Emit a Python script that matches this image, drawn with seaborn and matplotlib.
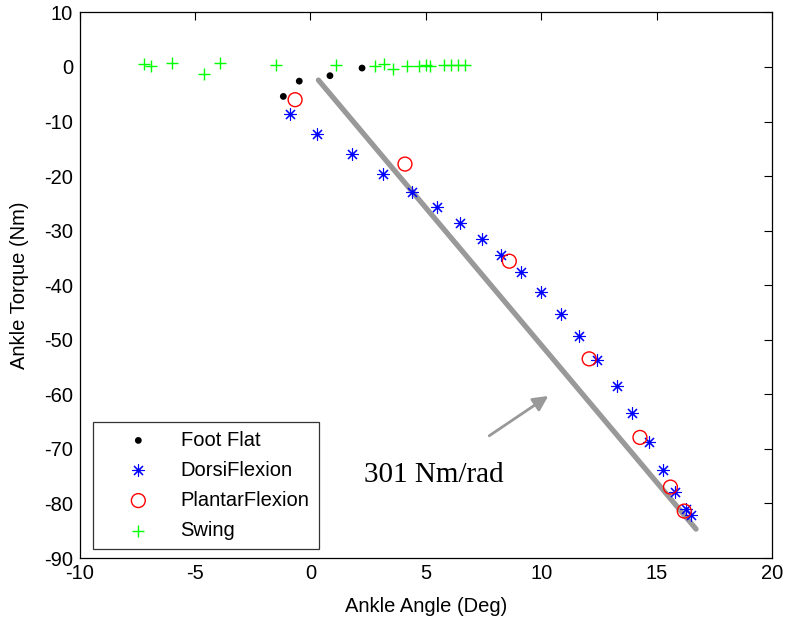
import matplotlib
matplotlib.use("Agg")
import matplotlib.pyplot as plt
import seaborn as sns

# Ankle angle (deg) / torque (Nm) samples by gait phase
foot_flat_angle = [-1.17, -0.48, 0.85, 2.24]
foot_flat_torque = [-5.4, -2.6, -1.6, -0.2]

dorsi_angle = [-0.88, 0.30, 1.82, 3.14, 4.39, 5.50, 6.49, 7.45, 8.26, 9.12,
               10.00, 10.84, 11.66, 12.44, 13.28, 13.95, 14.65, 15.27, 15.80,
               16.26, 16.48]
dorsi_torque = [-8.7, -12.2, -16.0, -19.6, -22.9, -25.7, -28.6, -31.6, -34.4,
                -37.6, -41.2, -45.3, -49.4, -53.8, -58.5, -63.4, -68.8, -73.8,
                -77.9, -81.1, -82.2]

plantar_angle = [-0.66, 4.10, 8.62, 12.08, 14.28, 15.60, 16.20]
plantar_torque = [-6.0, -17.8, -35.6, -53.5, -67.9, -77.0, -81.4]

swing_angle = [-7.2, -6.9, -6.0, -4.6, -3.9, -1.5, 1.1, 2.8, 3.2, 3.6, 4.2,
               4.7, 5.0, 5.2, 5.8, 6.1, 6.4, 6.7]
swing_torque = [0.6, 0.2, 0.7, -1.3, 0.7, 0.4, 0.4, 0.2, 0.5, -0.4, 0.2, 0.2,
                0.4, 0.2, 0.4, 0.4, 0.4, 0.4]

# Linear stiffness fit endpoints
fit_angle = [0.35, 16.71]
fit_torque = [-2.4, -84.7]
stiffness_label = "301 Nm/rad"

sns.set_style("white")
plt.rcParams["font.family"] = ["Liberation Sans", "DejaVu Sans"]
plt.rcParams["axes.unicode_minus"] = False
plt.rcParams["text.color"] = "black"
plt.rcParams["axes.labelcolor"] = "black"

FS = 14.5

fig = plt.figure(figsize=(7.86, 6.21), dpi=100)
ax = fig.add_axes([79.5 / 786, 1 - 558 / 621, (772 - 79.5) / 786, (558 - 12.4) / 621])

sns.lineplot(x=fit_angle, y=fit_torque, ax=ax, color="#999999", linewidth=3.8,
             legend=False, zorder=1)

sns.scatterplot(x=foot_flat_angle, y=foot_flat_torque, ax=ax, marker="o",
                color="black", s=24, edgecolor="none", label="Foot Flat", zorder=3)
sns.scatterplot(x=dorsi_angle, y=dorsi_torque, ax=ax, marker=(8, 2, 0),
                color="blue", s=75, linewidth=0.8, label="DorsiFlexion", zorder=3)
sns.scatterplot(x=plantar_angle, y=plantar_torque, ax=ax, marker="o",
                facecolor="none", edgecolor="red", s=100, linewidth=1.0,
                label="PlantarFlexion", zorder=3)
sns.scatterplot(x=swing_angle, y=swing_torque, ax=ax, marker="+",
                color="#00ff00", s=80, linewidth=1.0, label="Swing", zorder=3)

ax.annotate("", xy=(10.31, -60.3), xytext=(7.75, -67.6),
            arrowprops=dict(arrowstyle="-|>,head_length=0.9,head_width=0.45",
                            color="#999999", lw=2.0, shrinkA=0, shrinkB=0))
ax.text(5.36, -74.8, stiffness_label, family=["Liberation Serif", "DejaVu Serif"],
        fontsize=21, ha="center", va="center", color="black")

ax.set_xlim(-10, 20)
ax.set_ylim(-90, 10)
ax.set_xticks(range(-10, 21, 5))
ax.set_yticks(range(-90, 11, 10))
ax.tick_params(direction="in", length=5.5, width=0.8, top=True, right=True,
               labelsize=FS, colors="black", pad=4.5)
for s in ax.spines.values():
    s.set_color("black")
    s.set_linewidth(0.9)
ax.set_xlabel("Ankle Angle (Deg)", fontsize=FS, labelpad=10, color="black")
ax.set_ylabel("Ankle Torque (Nm)", fontsize=FS, labelpad=11, color="black")

leg = ax.legend(loc="lower left", bbox_to_anchor=(0.0195, 0.0165),
                borderaxespad=0, fontsize=FS, frameon=True, fancybox=False,
                edgecolor="black", handletextpad=0.3, labelspacing=0.55,
                borderpad=0.45, handlelength=3.6)
leg.get_frame().set_linewidth(0.9)
for t in leg.get_texts():
    t.set_color("black")

fig.savefig("out.png", dpi=100)
